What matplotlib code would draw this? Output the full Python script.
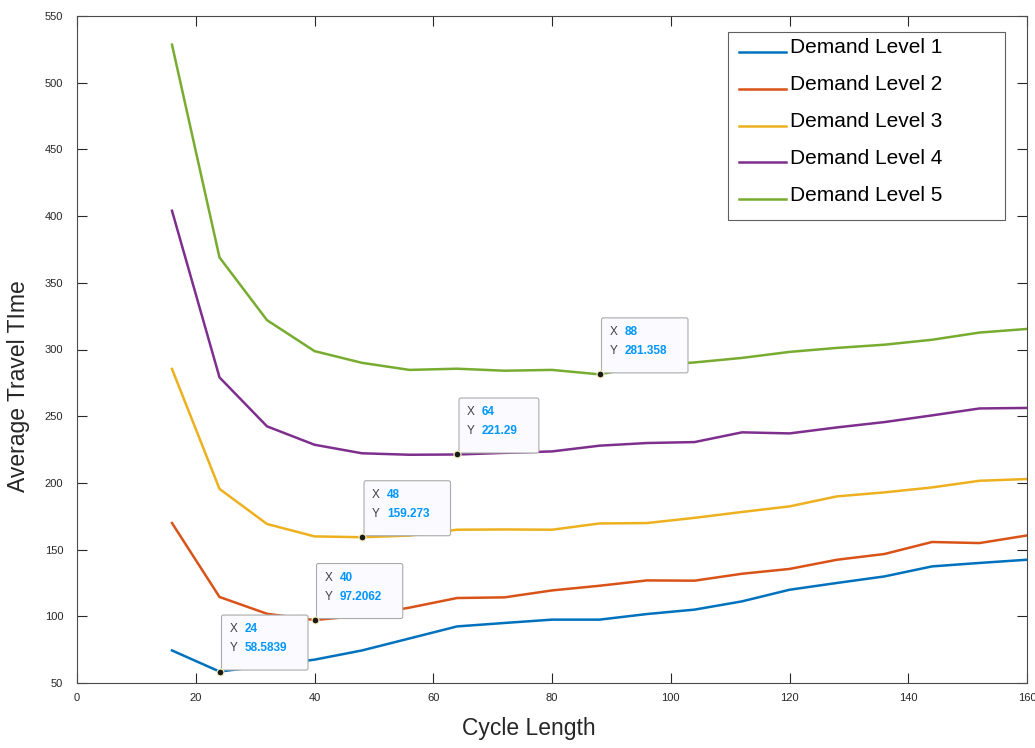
import matplotlib
matplotlib.use("Agg")
import matplotlib.pyplot as plt
import matplotlib.transforms as mtransforms
from matplotlib.patches import FancyBboxPatch, Rectangle
from matplotlib.lines import Line2D

plt.rcParams['font.family'] = ['Liberation Sans', 'DejaVu Sans']

# ---- data -------------------------------------------------------------
cycle_length = [16, 24, 32, 40, 48, 56, 64, 72, 80, 88, 96, 104, 112, 120,
                128, 136, 144, 152, 160]

demand_1 = [74.4, 58.5839, 63.0, 67.5, 74.4, 83.4, 92.4, 95.0, 97.5, 97.5,
            101.7, 105.0, 111.2, 119.9, 125.0, 129.9, 137.4, 140.0, 142.4]
demand_2 = [169.9, 114.5, 101.9, 97.2062, 100.5, 106.5, 113.7, 114.2, 119.4,
            122.9, 126.9, 126.7, 131.9, 135.5, 142.4, 146.7, 155.7, 154.9, 160.6]
demand_3 = [285.4, 195.5, 169.2, 159.9, 159.273, 160.5, 164.9, 165.1, 164.9,
            169.6, 169.9, 173.8, 178.2, 182.4, 189.9, 192.9, 196.6, 201.6, 202.9]
demand_4 = [404.0, 279.1, 242.4, 228.6, 222.2, 221.1, 221.29, 222.5, 223.6,
            227.9, 229.9, 230.6, 237.9, 237.1, 241.6, 245.6, 250.6, 255.8, 256.2]
demand_5 = [528.5, 369.0, 322.0, 298.8, 290.0, 284.7, 285.6, 284.1, 284.7,
            281.358, 288.0, 290.3, 293.7, 298.2, 301.2, 303.6, 307.3, 312.7, 315.4]

series = [demand_1, demand_2, demand_3, demand_4, demand_5]
series_labels = ['Demand Level 1', 'Demand Level 2', 'Demand Level 3',
                 'Demand Level 4', 'Demand Level 5']
series_colors = ['#0072BD', '#D95319', '#EDB120', '#7E2F8E', '#77AC30']

x_ticks = [0, 20, 40, 60, 80, 100, 120, 140, 160]
y_ticks = [50, 100, 150, 200, 250, 300, 350, 400, 450, 500, 550]

# data tips: (series index, cycle length)
tips = [(0, 24), (1, 40), (2, 48), (3, 64), (4, 88)]

# ---- figure -----------------------------------------------------------
W, H = 1035, 748
fig = plt.figure(figsize=(W / 100, H / 100), dpi=100)
ax = fig.add_axes([77 / W, 1 - 683 / H, 950 / W, 667 / H])

text_col = '#262626'
line_w = 1.8

for vals, col in zip(series, series_colors):
    ax.plot(cycle_length, vals, color=col, lw=line_w, solid_joinstyle='round',
            zorder=2)

ax.set_xlim(0, 160)
ax.set_ylim(50, 550)
ax.set_xticks(x_ticks)
ax.set_yticks(y_ticks)
ax.tick_params(direction='in', length=7, width=0.8, top=True, right=True,
               labelsize=8, colors=text_col)
ax.tick_params(axis='y', pad=10)
ax.tick_params(axis='x', pad=7)
for sp in ax.spines.values():
    sp.set_color('#4a4a4a')
    sp.set_linewidth(0.8)

ax.set_xlabel('Cycle Length', fontsize=16.5, color=text_col, va='center')
ax.xaxis.set_label_coords(0.476, (683 - 729) / 667)
ax.set_ylabel('Average Travel TIme', fontsize=16.5, color=text_col,
              va='center', ha='center')
ax.yaxis.set_label_coords((19 - 77) / 950, (683 - 386.5) / 667)

# ---- legend (boxed, lines sitting on the text baseline) -----------------
fig.add_artist(Rectangle((728 / W, 1 - 220 / H), 277 / W, 188 / H,
                         transform=fig.transFigure, fill=True, fc='white',
                         ec='#606060', lw=0.8, zorder=10))
for i, (lab, col) in enumerate(zip(series_labels, series_colors)):
    ly = 51.7 + 36.9 * i
    by = 53.3 + 36.9 * i
    fig.add_artist(Line2D([739 / W, 786 / W], [1 - ly / H, 1 - ly / H],
                          transform=fig.transFigure, color=col, lw=line_w,
                          zorder=11))
    fig.text(790 / W, 1 - by / H, lab, fontsize=15, color='black',
             ha='left', va='baseline', zorder=11)

# ---- data tips --------------------------------------------------------
fig.canvas.draw()
renderer = fig.canvas.get_renderer()
px = fig.dpi / 100.0
for si, xv in tips:
    yv = series[si][cycle_length.index(xv)]
    T = mtransforms.Affine2D().scale(px) + \
        mtransforms.ScaledTranslation(xv, yv, ax.transData)
    left, bottom, height = 2.0, 1.5, 55.0
    top = bottom + height
    row1, row2 = top - 14.3, top - 33.3
    kw_lab = dict(transform=T, fontsize=8.5, color='#404040', ha='left',
                  va='center', zorder=7, clip_on=False)
    kw_val = dict(transform=T, fontsize=8.5, color='#0096FF', ha='left',
                  va='center', fontweight='bold', zorder=7, clip_on=False)
    ax.text(left + 8, row1, 'X', **kw_lab)
    ax.text(left + 8, row2, 'Y', **kw_lab)
    t1 = ax.text(left + 23, row1, f'{xv:g}', **kw_val)
    t2 = ax.text(left + 23, row2, f'{yv:g}', **kw_val)
    x0 = ax.transData.transform((xv, yv))[0]
    right = max(t1.get_window_extent(renderer).x1,
                t2.get_window_extent(renderer).x1)
    width = (right - x0) / px + 21 - left
    ax.add_patch(FancyBboxPatch((left, bottom), width, height,
                                boxstyle='round,pad=0,rounding_size=2',
                                transform=T, fc='#FAFAFF', ec='#ABABAB',
                                lw=0.8, zorder=6, clip_on=False))
    ax.plot([xv], [yv], 'o', ms=5, mfc='#1a1a1a', mec='#F4EFC0', mew=0.9,
            zorder=8, clip_on=False)

fig.savefig('out.png', dpi=100, facecolor='white')
